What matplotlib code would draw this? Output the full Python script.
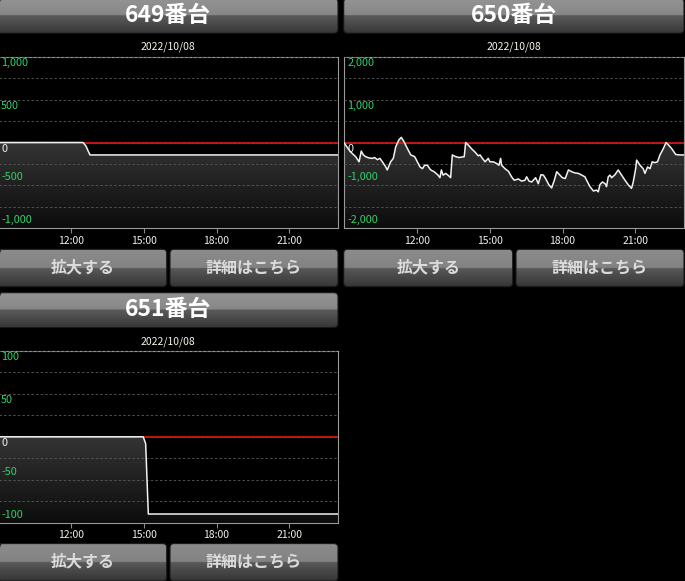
import numpy as np
import matplotlib
matplotlib.use('Agg')
import matplotlib.pyplot as plt
from matplotlib.patches import FancyBboxPatch

plt.rcParams['font.family'] = ['Noto Sans CJK JP', 'DejaVu Sans']

# ---------------- data ----------------
date_label = '2022/10/08'
x_ticks = [12, 15, 18, 21]
x_tick_labels = ['12:00', '15:00', '18:00', '21:00']
x_range = [9, 23]
button_labels = ['拡大する', '詳細はこちら']
titles = ['649番台', '650番台', '651番台']

t649 = [9.0, 12.5, 12.62, 12.72, 12.79, 23.0]
v649 = [0, 0, -40, -105, -145, -145]
lim649 = 1000
grid649 = 250
labels649 = [1000, 500, 0, -500, -1000]

t650 = [9.00, 9.14, 9.27, 9.48, 9.62, 9.71, 9.80, 9.89, 10.03, 10.17,
        10.26, 10.37, 10.48, 10.58, 10.72, 10.78, 10.92, 11.03, 11.13, 11.26,
        11.36, 11.47, 11.61, 11.75, 11.91, 12.02, 12.13, 12.23, 12.32, 12.43,
        12.57, 12.71, 12.87, 12.95, 13.01, 13.08, 13.19, 13.32, 13.39, 13.46,
        13.60, 13.73, 13.95, 14.01, 14.12, 14.26, 14.39, 14.53, 14.60, 14.70,
        14.81, 14.94, 15.01, 15.15, 15.29, 15.38, 15.45, 15.49, 15.63, 15.77,
        15.90, 16.01, 16.18, 16.31, 16.45, 16.52, 16.62, 16.73, 16.89, 17.00,
        17.11, 17.21, 17.30, 17.44, 17.55, 17.66, 17.76, 17.89, 17.99, 18.11,
        18.24, 18.37, 18.51, 18.65, 18.79, 18.92, 18.99, 19.13, 19.27, 19.40,
        19.47, 19.54, 19.64, 19.75, 19.81, 19.88, 19.95, 20.02, 20.16, 20.29,
        20.43, 20.57, 20.71, 20.84, 20.91, 21.01, 21.05, 21.19, 21.32, 21.39,
        21.50, 21.60, 21.69, 21.80, 21.91, 22.01, 22.15, 22.26, 22.35, 22.49,
        22.66, 22.83, 23.00]
v650 = [0, -120, -220, -330, -450, -200, -290, -330, -360, -370,
        -350, -400, -370, -450, -570, -640, -450, -370, -100, 60,
        120, 20, -140, -290, -330, -450, -570, -610, -530, -530,
        -640, -680, -760, -820, -640, -760, -720, -780, -820, -290,
        -330, -350, -330, 0, -60, -150, -220, -310, -290, -370,
        -450, -370, -450, -450, -490, -530, -370, -530, -610, -670,
        -800, -880, -850, -900, -880, -800, -900, -920, -820, -960,
        -750, -760, -840, -990, -1060, -880, -680, -760, -820, -840,
        -640, -680, -710, -720, -760, -800, -880, -1030, -1130, -1110,
        -1150, -980, -920, -960, -1030, -800, -760, -820, -750, -640,
        -760, -880, -990, -1070, -920, -610, -410, -530, -610, -720,
        -570, -610, -450, -470, -450, -290, -140, 0, -50, -140,
        -280, -290, -290]
lim650 = 2000
grid650 = 500
labels650 = [2000, 1000, 0, -1000, -2000]

t651 = [9.0, 14.98, 15.08, 15.19, 23.0]
v651 = [0, 0, -8, -90, -90]
lim651 = 100
grid651 = 25
labels651 = [100, 50, 0, -50, -100]

series = [
    (titles[0], t649, v649, lim649, grid649, labels649),
    (titles[1], t650, v650, lim650, grid650, labels650),
    (titles[2], t651, v651, lim651, grid651, labels651),
]

# ---------------- layout (pixels) ----------------
W, H = 685, 581
fig = plt.figure(figsize=(W / 100, H / 100), dpi=100, facecolor='black')

over = fig.add_axes([0, 0, 1, 1], zorder=0)
over.set_xlim(0, W)
over.set_ylim(H, 0)
over.axis('off')

origins = [(0, 0), (346, 0), (0, 294.3)]


def gloss_box(x0, x1, y0, y1, top=(0.58, 0.53), bot=(0.36, 0.22), r=4):
    patch = FancyBboxPatch((x0, y0), x1 - x0, y1 - y0,
                           boxstyle=f'round,pad=0,rounding_size={r}',
                           facecolor='none', edgecolor='#1a1a1a', lw=0.8,
                           zorder=2)
    over.add_patch(patch)
    f = np.linspace(0, 1, 80)
    vals = np.where(f < 0.5, top[0] + (top[1] - top[0]) * f / 0.5,
                    bot[0] + (bot[1] - bot[0]) * (f - 0.5) / 0.5)
    arr = np.repeat(vals[:, None], 2, axis=1)
    im = over.imshow(arr, cmap='gray', vmin=0, vmax=1, origin='upper',
                     extent=(x0, x1, y1, y0), aspect='auto', zorder=1,
                     interpolation='bilinear')
    im.set_clip_path(patch)


for (title, t, v, lim, gstep, labs), (ox, oy) in zip(series, origins):
    # header
    gloss_box(ox - 2.3, ox + 338, oy - 1.6, oy + 33.2)
    over.text(ox + 168, oy + 15.5, title, ha='center', va='center',
              color='white', fontsize=16.5, fontweight='bold', zorder=3)
    over.text(ox + 168, oy + 47, date_label, ha='center', va='center',
              color='#f5f5e8', fontsize=7.5, zorder=3)
    # buttons
    for (bx0, bx1), lab in zip([(-2.3, 166.7), (170, 338)], button_labels):
        gloss_box(ox + bx0, ox + bx1, oy + 249.3, oy + 286.7,
                  top=(0.55, 0.51), bot=(0.35, 0.21))
        over.text(ox + (bx0 + bx1) / 2, oy + 267.5, lab, ha='center',
                  va='center', color='#dcdcdc', fontsize=11.5,
                  fontweight='bold', zorder=3)

    # chart axes
    left = (ox - 2) / W
    bottom = 1 - (oy + 228.3) / H
    ax = fig.add_axes([left, bottom, 340 / W, 171.6 / H], zorder=1)
    ax.set_facecolor('black')
    ax.set_xlim(*x_range)
    ax.set_ylim(-lim, lim)

    # gradient area under the line
    poly = ax.fill_between(t, v, -lim, facecolor='none', edgecolor='none')
    g = np.linspace(0.36, 0.05, 100)
    garr = np.repeat(g[:, None], 2, axis=1)
    im = ax.imshow(garr, cmap='gray', vmin=0, vmax=1, origin='upper',
                   extent=(x_range[0], x_range[1], -lim, lim), aspect='auto',
                   zorder=1, interpolation='bilinear')
    im.set_clip_path(poly.get_paths()[0], transform=ax.transData)
    ax.set_xlim(*x_range)
    ax.set_ylim(-lim, lim)

    # grid
    ax.set_yticks(np.arange(-lim, lim + 1, gstep))
    ax.tick_params(axis='y', length=0, labelleft=False)
    ax.set_axisbelow(False)
    ax.grid(axis='y', color='#5a5a5a', lw=0.6, linestyle=(0, (3, 2.5)))

    ax.axhline(0, color='#e01515', lw=1.2, zorder=2.7)
    ax.plot(t, v, color='#f2f2f2', lw=1.1, zorder=3)

    for s in ax.spines.values():
        s.set_color('#9a9a9a')
        s.set_linewidth(0.8)

    ax.set_xticks(x_ticks)
    ax.set_xticklabels(x_tick_labels)
    ax.tick_params(axis='x', direction='out', length=3.6, width=0.8,
                   color='#8a8a8a', pad=2, labelsize=7.5,
                   labelcolor='#f2f2ea')

    for val in labs:
        ax.annotate(f'{val:,}', xy=(0, val),
                    xycoords=('axes fraction', 'data'),
                    xytext=(2.2, -4.5 if val >= 0 else 5.7),
                    textcoords='offset points', ha='left', va='center',
                    fontsize=7.8,
                    color='#f2f2f2' if val == 0 else '#2fd36a', zorder=4)

fig.savefig('out.png', dpi=100, facecolor='black')
